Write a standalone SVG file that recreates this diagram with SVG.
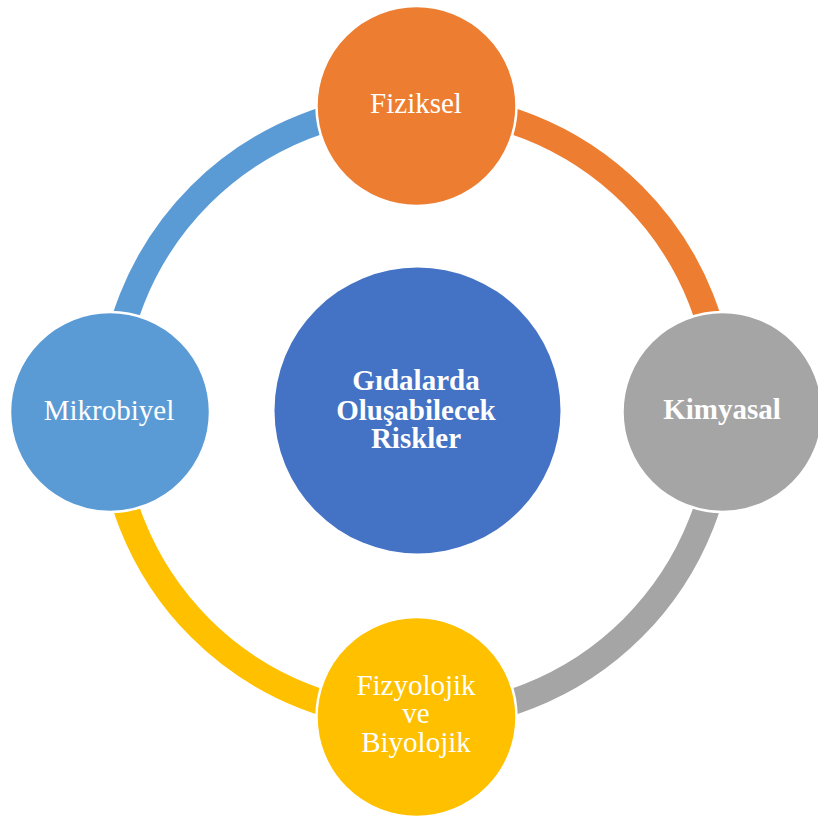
<svg xmlns="http://www.w3.org/2000/svg" width="818" height="821" viewBox="0 0 818 821">
  <style>
    .ring { fill: none; stroke-width: 26; }
    .node { stroke: #ffffff; stroke-width: 2.5; }
    .label { fill: #ffffff; font-family: "Liberation Serif", "Times New Roman", serif; font-size: 29px; text-anchor: middle; }
    .bold { font-weight: bold; }
  </style>
  <rect width="818" height="821" fill="#ffffff"/>
  <!-- ring segments, one quarter per outer node -->
  <g id="connectors">
    <path class="ring" stroke="#ED7D31" d="M416.5 105.5 A306 306 0 0 1 722.5 411.5"/>
    <path class="ring" stroke="#A5A5A5" d="M722.5 411.5 A306 306 0 0 1 416.5 717.5"/>
    <path class="ring" stroke="#FFC000" d="M416.5 717.5 A306 306 0 0 1 110.5 411.5"/>
    <path class="ring" stroke="#5B9BD5" d="M110.5 411.5 A306 306 0 0 1 416.5 105.5"/>
  </g>
  <g id="center">
    <circle cx="417.5" cy="410.5" r="143" fill="#4472C4"/>
    <text class="label bold" x="416" y="390">Gıdalarda</text>
    <text class="label bold" x="416" y="420">Oluşabilecek</text>
    <text class="label bold" x="416" y="448">Riskler</text>
  </g>
  <g id="fiziksel">
    <circle class="node" cx="416.5" cy="106" r="100" fill="#ED7D31"/>
    <text class="label" x="416" y="113">Fiziksel</text>
  </g>
  <g id="kimyasal">
    <circle class="node" cx="722.5" cy="412" r="100" fill="#A5A5A5"/>
    <text class="label bold" x="722" y="419">Kimyasal</text>
  </g>
  <g id="fizyolojik">
    <circle class="node" cx="416.5" cy="717" r="100" fill="#FFC000"/>
    <text class="label" x="416" y="695">Fizyolojik</text>
    <text class="label" x="416" y="723">ve</text>
    <text class="label" x="416" y="752">Biyolojik</text>
  </g>
  <g id="mikrobiyel">
    <circle class="node" cx="110" cy="412" r="100" fill="#5B9BD5"/>
    <text class="label" x="109" y="420">Mikrobiyel</text>
  </g>
</svg>
